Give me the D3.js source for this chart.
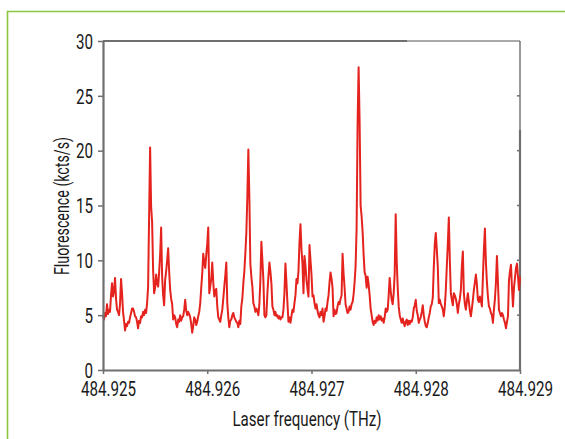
<!DOCTYPE html>
<html>
<head>
<meta charset="utf-8">
<script src="https://cdn.jsdelivr.net/npm/d3@7/dist/d3.min.js"></script>
<style>
  html, body { margin: 0; padding: 0; background: #fff; }
  svg { display: block; }
  text { font-family: Roboto, "DejaVu Sans Condensed", sans-serif; fill: #1a1a1a; }
</style>
</head>
<body>
<svg id="chart" width="565" height="439"></svg>
<script>
// ---- data ----
const scanStartTHz = 484.925;
const scanEndTHz = 484.929;
// fluorescence (kcts/s), evenly sampled across the scan
const fluorescence = [
  5.0,4.6,5.2,4.9,6.0,5.1,5.5,5.3,6.8,7.9,6.7,7.2,8.4,6.5,5.5,5.3,5.0,6.0,8.3,7.0,
  5.3,4.5,3.6,4.2,4.0,4.4,4.3,4.8,5.2,5.6,5.6,5.3,4.9,4.8,4.4,3.8,4.5,4.3,4.9,4.8,
  5.3,5.0,5.5,5.2,6.1,7.6,14.0,20.3,14.9,13.5,9.1,7.0,7.5,8.7,7.9,7.6,8.9,10.5,13.0,8.5,
  6.8,5.9,8.2,9.0,10.0,11.1,9.0,7.3,6.5,6.0,4.6,5.0,4.8,4.2,3.9,4.6,4.4,5.0,4.5,4.8,
  4.9,5.5,6.4,5.4,5.0,5.3,5.1,4.8,4.2,3.4,4.0,4.8,4.6,4.1,4.4,4.9,5.3,6.1,7.5,8.8,
  10.6,9.8,9.3,10.5,11.5,13.0,7.0,7.6,8.3,9.8,8.0,6.7,7.2,7.4,5.8,4.8,4.6,4.4,5.0,5.5,
  6.5,7.6,8.6,9.8,6.1,4.8,3.9,4.5,4.6,5.0,5.2,4.8,4.6,4.4,4.3,3.9,4.5,4.2,5.8,6.5,
  7.9,9.0,10.6,12.5,15.8,20.1,15.8,9.7,8.5,7.6,6.1,5.8,5.3,5.6,5.4,5.0,6.0,8.2,11.7,10.0,
  8.2,5.0,4.8,5.0,7.0,8.5,9.8,9.0,7.9,5.8,5.5,5.0,5.3,4.9,5.0,4.7,4.9,4.6,4.8,4.8,
  5.5,7.0,9.7,8.0,6.1,4.4,4.8,4.3,4.9,5.5,5.3,6.1,6.8,8.3,7.9,9.0,11.6,13.3,11.0,9.7,
  7.0,10.4,9.5,8.2,7.4,6.7,11.4,10.0,8.7,6.7,6.8,6.1,5.6,6.0,5.4,5.0,4.8,5.3,5.0,5.6,
  4.4,4.9,5.6,5.4,6.2,6.8,8.0,8.9,8.3,7.5,4.9,5.5,5.1,5.2,5.8,6.2,6.0,6.5,6.8,10.6,
  8.8,7.5,6.0,5.6,5.2,5.3,5.8,5.5,6.0,6.2,6.9,8.0,9.5,12.9,22.6,27.6,22.6,15.0,14.0,12.6,
  10.5,8.9,8.6,7.5,8.5,7.8,6.8,5.6,5.0,4.4,4.1,4.5,4.3,4.8,4.5,5.0,4.6,4.9,4.5,4.7,
  4.3,4.8,5.6,5.3,5.5,6.8,8.4,7.2,6.4,6.0,7.0,8.8,14.2,10.0,7.5,5.8,5.0,4.6,4.3,4.7,
  4.3,4.0,4.4,4.6,4.1,4.5,4.2,4.5,4.4,4.8,5.6,5.9,6.4,5.4,5.0,4.3,4.6,4.8,5.3,5.9,
  5.0,4.4,4.0,3.9,4.3,4.8,5.2,5.8,6.0,6.6,9.4,11.5,12.5,11.0,9.4,6.1,6.4,6.0,5.8,5.5,
  4.9,5.8,7.3,9.5,11.5,13.9,10.0,7.0,6.4,5.9,7.0,6.8,6.5,6.0,5.2,6.0,6.5,7.3,9.5,10.8,
  7.0,6.0,5.5,6.3,7.0,6.2,5.4,4.9,5.6,6.4,7.3,8.0,8.7,7.8,6.4,6.2,6.7,6.3,5.8,8.5,
  11.0,12.9,9.8,8.0,6.7,5.8,5.6,5.2,5.0,4.3,5.5,6.5,8.0,10.4,8.0,5.5,5.2,4.9,5.2,5.0,
  4.6,4.3,3.8,4.4,4.9,8.2,9.0,9.6,7.5,5.8,7.5,8.4,9.3,9.7,8.5,7.3,8.5
];
const xTickValues = [484.925, 484.926, 484.927, 484.928, 484.929];
const xTickLabels = ["484.925", "484.926", "484.927", "484.928", "484.929"];
const yTickValues = [0, 5, 10, 15, 20, 25, 30];
const xTitle = "Laser frequency (THz)";
const yTitle = "Fluorescence (kcts/s)";

// ---- layout ----
const svg = d3.select("#chart");
const margin = { left: 103, right: 45, top: 41, bottom: 69 };
const W = 565, H = 439;
const x = d3.scaleLinear().domain([scanStartTHz, scanEndTHz]).range([margin.left, W - margin.right]);
const y = d3.scaleLinear().domain([0, 30]).range([H - margin.bottom, margin.top]);
const idx = d3.scaleLinear().domain([0, fluorescence.length - 1]).range([scanStartTHz, scanEndTHz]);

// green frame
svg.append("path")
  .attr("d", `M7.5,${H} V11.5 H${W}`)
  .attr("fill", "none").attr("stroke", "#8cc63f").attr("stroke-width", 1.6);

const axisColor = "#6f6f6f";

// top / right borders of plot box
svg.append("line").attr("x1", x(scanStartTHz)).attr("x2", 407).attr("y1", y(30)).attr("y2", y(30))
  .attr("stroke", axisColor).attr("stroke-width", 2);
svg.append("line").attr("x1", 407).attr("x2", x(scanEndTHz)).attr("y1", y(30)).attr("y2", y(30))
  .attr("stroke", "#555").attr("stroke-width", 1);
svg.append("line").attr("x1", x(scanEndTHz)).attr("x2", x(scanEndTHz)).attr("y1", y(30)).attr("y2", 130)
  .attr("stroke", "#555").attr("stroke-width", 1.2);
svg.append("line").attr("x1", x(scanEndTHz)).attr("x2", x(scanEndTHz)).attr("y1", 130).attr("y2", y(0))
  .attr("stroke", axisColor).attr("stroke-width", 2.2);
// inner ticks on right
svg.append("g").selectAll("line").data(yTickValues.slice(1, -1)).join("line")
  .attr("x1", x(scanEndTHz) - 3).attr("x2", x(scanEndTHz))
  .attr("y1", d => y(d)).attr("y2", d => y(d))
  .attr("stroke", axisColor).attr("stroke-width", 1.5);

// trace
const line = d3.line().x((d, i) => x(idx(i))).y(d => y(d));
svg.append("path").datum(fluorescence)
  .attr("d", line)
  .attr("fill", "none")
  .attr("stroke", "#e5231e")
  .attr("stroke-width", 2)
  .attr("stroke-linejoin", "round");

// axes
const xAxis = d3.axisBottom(x).tickValues(xTickValues).tickFormat((d, i) => xTickLabels[i]).tickSizeOuter(0).tickSizeInner(4).tickPadding(9);
const yAxis = d3.axisLeft(y).tickValues(yTickValues).tickSizeOuter(0).tickSizeInner(5).tickPadding(5);

const gx = svg.append("g").attr("transform", `translate(0,${y(0)})`).call(xAxis);
const gy = svg.append("g").attr("transform", `translate(${x(scanStartTHz)},0)`).call(yAxis);
[gx, gy].forEach(g => {
  g.select(".domain").attr("stroke", axisColor).attr("stroke-width", 2.2);
  g.selectAll(".tick line").attr("stroke", axisColor).attr("stroke-width", 1.5);
  g.selectAll(".tick text").style("font-size", "20px").attr("fill", "#1a1a1a")
    .style("font-family", "Roboto, 'DejaVu Sans Condensed', sans-serif");
});
const sx = 0.76;
// condensed look: squeeze glyphs horizontally around each tick
gx.selectAll(".tick text")
  .attr("x", 5 / sx).attr("dy", "0.66em")
  .attr("transform", `scale(${sx},1)`);
gy.selectAll(".tick text")
  .attr("x", -10 / sx).attr("dy", "0.36em")
  .attr("transform", `scale(${sx},1)`);

// titles
svg.append("g").attr("transform", `translate(307,426) scale(0.72,1)`)
  .append("text").attr("text-anchor", "middle")
  .style("font-size", "21px").text(xTitle);
svg.append("g").attr("transform", `translate(69,206) rotate(-90) scale(0.68,1)`)
  .append("text").attr("text-anchor", "middle")
  .style("font-size", "21px").text(yTitle);
</script>
</body>
</html>
